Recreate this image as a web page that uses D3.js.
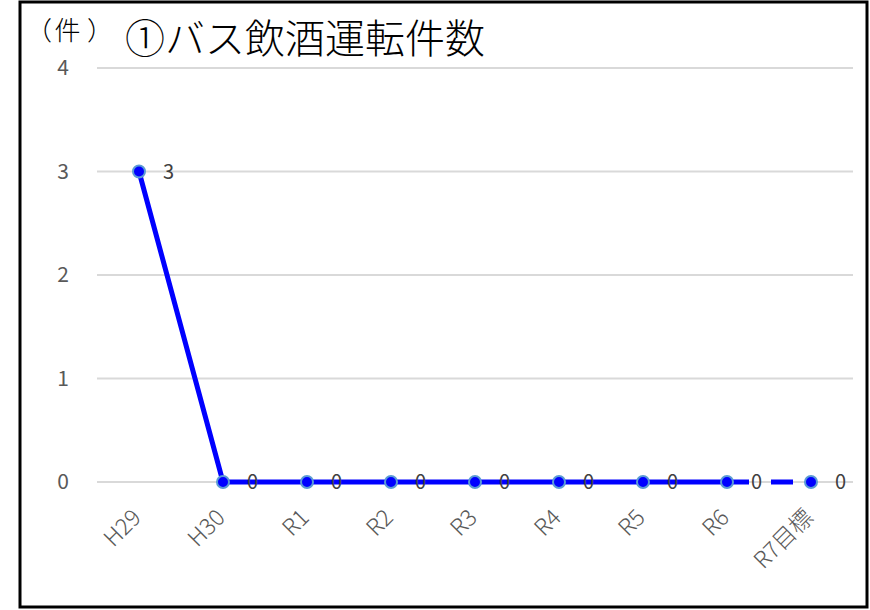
<!DOCTYPE html>
<html><head><meta charset="utf-8">
<script src="https://cdn.jsdelivr.net/npm/d3@7"></script>
<style>body{margin:0;background:#fff;} svg{display:block;}</style>
</head><body>
<script>
const categories = ["H29","H30","R1","R2","R3","R4","R5","R6","R7目標"];
const values = [3,0,0,0,0,0,0,0,0];
const yTicks = [0,1,2,3,4];
const title = "①バス飲酒運転件数";
const unitChars = ["（","件","）"];

const W = 870, H = 610;
const svg = d3.select("body").append("svg").attr("width", W).attr("height", H);
const font = "'Noto Sans CJK JP','Noto Sans',sans-serif";

svg.append("rect").attr("x",20).attr("y",2).attr("width",847).attr("height",605)
  .attr("fill","#fff").attr("stroke","#000").attr("stroke-width",3);

const x = d3.scalePoint().domain(categories).range([97,853]).padding(0.5);
const y = d3.scaleLinear().domain([0,4]).range([482,68]);

// gridlines
svg.append("g").selectAll("line").data(yTicks).join("line")
  .attr("x1",97).attr("x2",853).attr("y1",d=>y(d)).attr("y2",d=>y(d))
  .attr("stroke","#d9d9d9").attr("stroke-width",2);

// y axis labels
const yAxis = d3.axisLeft(y).tickValues(yTicks).tickFormat(d3.format("d")).tickSize(0).tickPadding(0);
const gy = svg.append("g").attr("transform","translate(69,0)").call(yAxis);
gy.select(".domain").remove();
gy.selectAll("text").attr("font-family",font).attr("font-size",21).attr("fill","#595959");

// x axis labels
const xAxis = d3.axisBottom(x).tickSize(0).tickPadding(0);
const gx = svg.append("g").attr("transform","translate(0,482)").call(xAxis);
gx.select(".domain").remove();
gx.selectAll("text").attr("font-family",font).attr("font-size",23).attr("fill","#595959")
  .attr("font-weight",300)
  .attr("text-anchor","end").attr("dy",null).attr("y",0)
  .attr("transform","translate(3,37) rotate(-45)");

// line
const pts = categories.map((c,i)=>({c, v:values[i]}));
const line = d3.line().x(d=>x(d.c)).y(d=>y(d.v));
svg.append("path").datum(pts.slice(0,8)).attr("d",line)
  .attr("fill","none").attr("stroke","#0000ff").attr("stroke-width",5).attr("stroke-linejoin","round");
svg.append("path").datum(pts.slice(7)).attr("d",line)
  .attr("fill","none").attr("stroke","#0000ff").attr("stroke-width",5).attr("stroke-dasharray","22,22");

// markers
svg.append("g").selectAll("circle").data(pts).join("circle")
  .attr("cx",d=>x(d.c)).attr("cy",d=>y(d.v)).attr("r",6)
  .attr("fill","#0000ff").attr("stroke","#5b9bd5").attr("stroke-width",2);

// data labels
svg.append("g").selectAll("text").data(pts).join("text")
  .attr("x",d=>x(d.c)+24).attr("y",d=>y(d.v)).attr("dy","0.36em")
  .attr("font-family",font).attr("font-size",20).attr("fill","#404040")
  .text(d=>d.v);

// unit label, placed glyph by glyph
const unitOffsets = [-28.5, 0, 32.5];
svg.append("g").selectAll("text").data(unitChars).join("text")
  .attr("x",(d,i)=>67.5 + unitOffsets[i]).attr("y",40).attr("text-anchor","middle")
  .attr("font-family",font).attr("font-size",26).attr("font-weight",300).attr("fill","#000")
  .text(d=>d);
svg.append("text").attr("x",125).attr("y",53).attr("font-family",font).attr("font-size",40)
  .attr("font-weight",300).attr("fill","#000").text(title);
</script>
</body></html>
